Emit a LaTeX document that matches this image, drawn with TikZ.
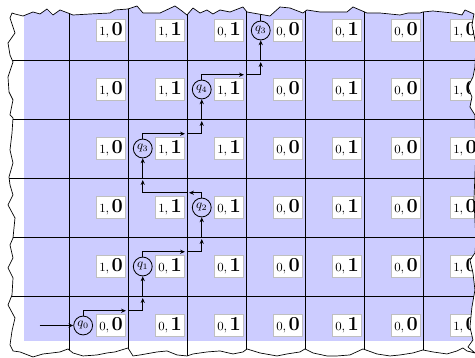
\documentclass[tikz,border=0pt]{standalone}
\usetikzlibrary{arrows.meta}

\newcommand{\cellval}[2]{{\fontsize{9.5}{10}\selectfont$#1,$}\,{\fontsize{13.5}{14}\selectfont$\mathbf{#2}$}}
\newcommand{\tornedge}{(12,13) -- (15,14) -- (23,16) -- (33,12) -- (40,14) -- (47,9) -- (53,15) -- (60,10)
  -- (68,13) -- (73,15) -- (90,14) -- (110,13) -- (115,10) -- (128,9) -- (137,6) -- (143,13) -- (160,13)
  -- (175,6) -- (182,11) -- (187,15) -- (193,8) -- (200,13) -- (207,10) -- (213,14) -- (220,10) -- (230,12)
  -- (243,7) -- (247,12) -- (270,16) -- (280,7) -- (290,8) -- (303,13) -- (307,10) -- (320,12) -- (347,12)
  -- (353,7) -- (367,13) -- (380,13) -- (400,15) -- (408,13) -- (420,13) -- (423,12) -- (433,11) -- (453,13)
  -- (462,15) -- (465,10) -- (474,14) -- (472,25) -- (476,45) -- (475,67) -- (473,77) -- (468,87) -- (472,97)
  -- (470,107) -- (475,115) -- (476,150) -- (474,200) -- (476,240) -- (475,253) -- (470,260) -- (473,273)
  -- (475,290) -- (472,307) -- (470,327) -- (473,340) -- (468,347) -- (475,353) -- (467,351) -- (463,348)
  -- (457,351) -- (447,354) -- (433,352) -- (423,350) -- (413,353) -- (400,355) -- (390,356) -- (377,354)
  -- (363,349) -- (350,355) -- (337,356) -- (327,356) -- (313,353) -- (305,349) -- (300,352) -- (287,354)
  -- (277,356) -- (260,353) -- (247,349) -- (243,352) -- (233,354) -- (220,351) -- (207,352) -- (193,354)
  -- (187,356) -- (177,355) -- (167,351) -- (157,352) -- (140,355) -- (133,356) -- (128,348) -- (115,352)
  -- (107,353) -- (97,355) -- (83,356) -- (73,353) -- (68,349) -- (60,352) -- (52,353) -- (43,354)
  -- (33,357) -- (20,352) -- (13,351) -- (10,345) -- (12,331) -- (15,318) -- (8,305) -- (12,295)
  -- (13,278) -- (8,268) -- (13,258) -- (10,245) -- (13,238) -- (15,218) -- (8,205) -- (13,195) -- (10,185)
  -- (9,177) -- (13,163) -- (10,150) -- (12,133) -- (13,118) -- (10,115) -- (13,100) -- (9,92) -- (8,77)
  -- (13,62) -- (10,55) -- (8,43) -- (15,33) -- (10,18) -- cycle}

\begin{document}
\begin{tikzpicture}[x=1.5cm, y=1.5cm,
    val/.style={draw=black!25, fill=white, line width=0.6pt, anchor=east,
                inner sep=1.5pt, minimum height=0.58cm, minimum width=0.72cm},
    state/.style={circle, draw, fill=blue!20, line width=0.6pt, inner sep=0pt,
                  minimum size=0.48cm, font=\small},
    run/.style={line width=0.6pt, -{Stealth[length=3.5pt,width=3pt]}},
    gridline/.style={line width=0.6pt},
    px/.style={shift={(-69/59,296/59)}, x=0.025424cm, y=-0.025424cm}]

  \useasboundingbox (-1.16949,-1.05085) rectangle (6.88136,5.01695);

  \begin{scope}
    \clip[px] \tornedge;
    % background and grid
    \fill[blue!20] (-0.763,-0.763) rectangle (7.5,5.5);
    \foreach \x in {0,...,6}
      \draw[gridline] (\x,-1.5) -- (\x,5.5);
    \foreach \y in {0,...,4}
      \draw[gridline] (-1.5,\y) -- (7.5,\y);

    % cell values, bottom row first
    \foreach \a/\b [count=\j from 0] in {0/0,0/1,0/1,0/0,0/1,0/0,1/0}
      \node[val] (v\j-0) at (\j+0.96,-0.5) {\cellval{\a}{\b}};
    \foreach \a/\b [count=\j from 0] in {1/0,0/1,0/1,0/0,0/1,0/0,1/0}
      \node[val] (v\j-1) at (\j+0.96,0.5) {\cellval{\a}{\b}};
    \foreach \a/\b [count=\j from 0] in {1/0,1/1,0/1,0/0,0/1,0/0,1/0}
      \node[val] (v\j-2) at (\j+0.96,1.5) {\cellval{\a}{\b}};
    \foreach \a/\b [count=\j from 0] in {1/0,1/1,1/1,0/0,0/1,0/0,1/0}
      \node[val] (v\j-3) at (\j+0.96,2.5) {\cellval{\a}{\b}};
    \foreach \a/\b [count=\j from 0] in {1/0,1/1,1/1,0/0,0/1,0/0,1/0}
      \node[val] (v\j-4) at (\j+0.96,3.5) {\cellval{\a}{\b}};
    \foreach \a/\b [count=\j from 0] in {1/0,1/1,0/1,0/0,0/1,0/0,1/0}
      \node[val] (v\j-5) at (\j+0.96,4.5) {\cellval{\a}{\b}};

    % states of the run
    \node[state] (q0)    at (0.24,-0.5) {$q_0$};
    \node[state] (q1)    at (1.25,0.5)  {$q_1$};
    \node[state] (q2)    at (2.25,1.5)  {$q_2$};
    \node[state] (q3)    at (1.25,2.5)  {$q_3$};
    \node[state] (q4)    at (2.25,3.5)  {$q_4$};
    \node[state] (q3top) at (3.25,4.5)  {$q_3$};

    \coordinate (in)  at (-0.5,-0.5);
    \coordinate (h0)  at (1,-0.25);  \coordinate (v0) at (1.25,0);
    \coordinate (h1)  at (2,0.75);   \coordinate (v1) at (2.25,1);
    \coordinate (h2)  at (2,1.75);   \coordinate (v2) at (1.25,2);
    \coordinate (h3)  at (2,2.75);   \coordinate (v3) at (2.25,3);
    \coordinate (h4)  at (3,3.75);   \coordinate (v4) at (3.25,4);
    \coordinate (out) at (3.25,5.3);

    \draw[run] (in) -- (q0);
    \foreach \s/\h/\v/\t in {q0/h0/v0/q1, q1/h1/v1/q2, q2/h2/v2/q3, q3/h3/v3/q4, q4/h4/v4/q3top} {
      \draw[run, shorten >=1.5pt] (\s.north) |- (\h);
      \draw[run, shorten >=1.5pt] (\h) -| (\v);
      \draw[run] (\v) -- (\t.south);
    }
    \draw[gridline] (q3top.north) -- (out);
  \end{scope}

  % torn paper edge
  \draw[px, line width=0.5pt, line join=round] \tornedge;
\end{tikzpicture}
\end{document}
